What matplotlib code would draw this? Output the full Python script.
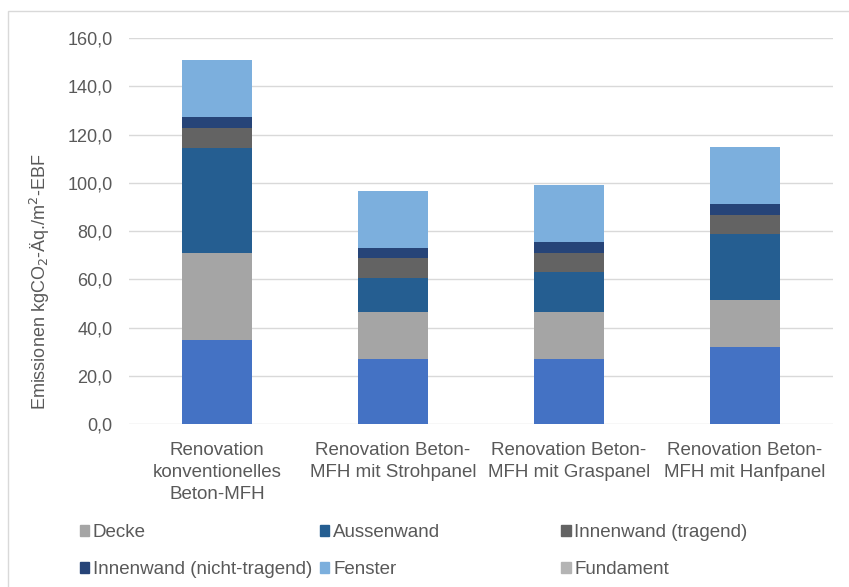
import numpy as np
import matplotlib.pyplot as plt
from matplotlib.patches import Rectangle, Patch

plt.rcParams['font.family'] = ['Liberation Sans', 'DejaVu Sans']

# Daten (kgCO2-Äq./m2-EBF)
kategorien = ['Renovation\nkonventionelles\nBeton-MFH',
              'Renovation Beton-\nMFH mit Strohpanel',
              'Renovation Beton-\nMFH mit Graspanel',
              'Renovation Beton-\nMFH mit Hanfpanel']
boden = [34.8, 26.9, 26.9, 31.8]
decke = [36.2, 19.7, 19.4, 19.5]
aussenwand = [43.6, 13.8, 16.6, 27.3]
innen_tragend = [8.3, 8.3, 7.9, 8.0]
innen_nicht = [4.2, 4.4, 4.5, 4.5]
fenster = [23.8, 23.6, 23.8, 23.8]
fundament = [0.0, 0.0, 0.0, 0.0]

serien = [
    ('_boden', boden, '#4472C4'),
    ('Decke', decke, '#A5A5A5'),
    ('Aussenwand', aussenwand, '#255E91'),
    ('Innenwand (tragend)', innen_tragend, '#636363'),
    ('Innenwand (nicht-tragend)', innen_nicht, '#264478'),
    ('Fenster', fenster, '#7CAFDD'),
    ('Fundament', fundament, '#B4B4B4'),
]

textfarbe = '#595959'

fig = plt.figure(figsize=(8.49, 5.87), dpi=100)
ax = fig.add_axes([0.152, 0.2777, 0.829, 0.6573])

x = np.arange(len(kategorien))
unten = np.zeros(len(kategorien))
for name, werte, farbe in serien:
    ax.bar(x, werte, bottom=unten, width=0.4, color=farbe, label=name, zorder=3)
    unten += np.array(werte)

ax.set_xlim(-0.5, len(kategorien) - 0.5)
ax.set_ylim(0, 160)
ax.set_yticks(np.arange(0, 161, 20))
ax.set_yticklabels([f'{v:.1f}'.replace('.', ',') for v in np.arange(0, 161, 20)])
ax.set_xticks(x)
ax.set_xticklabels(kategorien, linespacing=1.38, fontsize=13.5)
ax.tick_params(axis='y', length=0, labelsize=13, colors=textfarbe, pad=12)
ax.tick_params(axis='x', length=0, colors=textfarbe, pad=13)
ax.grid(axis='y', color='#D9D9D9', linewidth=1, zorder=0)
for s in ax.spines.values():
    s.set_visible(False)
ax.set_ylabel('Emissionen kgCO$_2$-Äq./m$^2$-EBF', fontsize=13, color=textfarbe)
ax.yaxis.set_label_coords(-0.11, 0.37)

# Legende: drei Spalten, zeilenweise gefüllt
griffe = [Patch(color=f, label=n) for n, w, f in serien if not n.startswith('_')]
spalten_x = [0.094, 0.377, 0.661]
for i, sx in enumerate(spalten_x):
    g = [griffe[i], griffe[i + 3]]
    fig.legend(handles=g, loc='upper left', bbox_to_anchor=(sx, 0.107), frameon=False,
               fontsize=13.5, labelcolor=textfarbe, handlelength=0.5, handleheight=0.5,
               handletextpad=0.2, labelspacing=1.05, borderaxespad=0, borderpad=0)

# Rahmen des Diagrammbereichs
fig.patches.append(Rectangle((8 / 849, -0.05), 1.0, 1 - 11 / 587 + 0.05, transform=fig.transFigure,
                             fill=False, edgecolor='#D9D9D9', linewidth=1))

fig.savefig('out.png', dpi=100)
